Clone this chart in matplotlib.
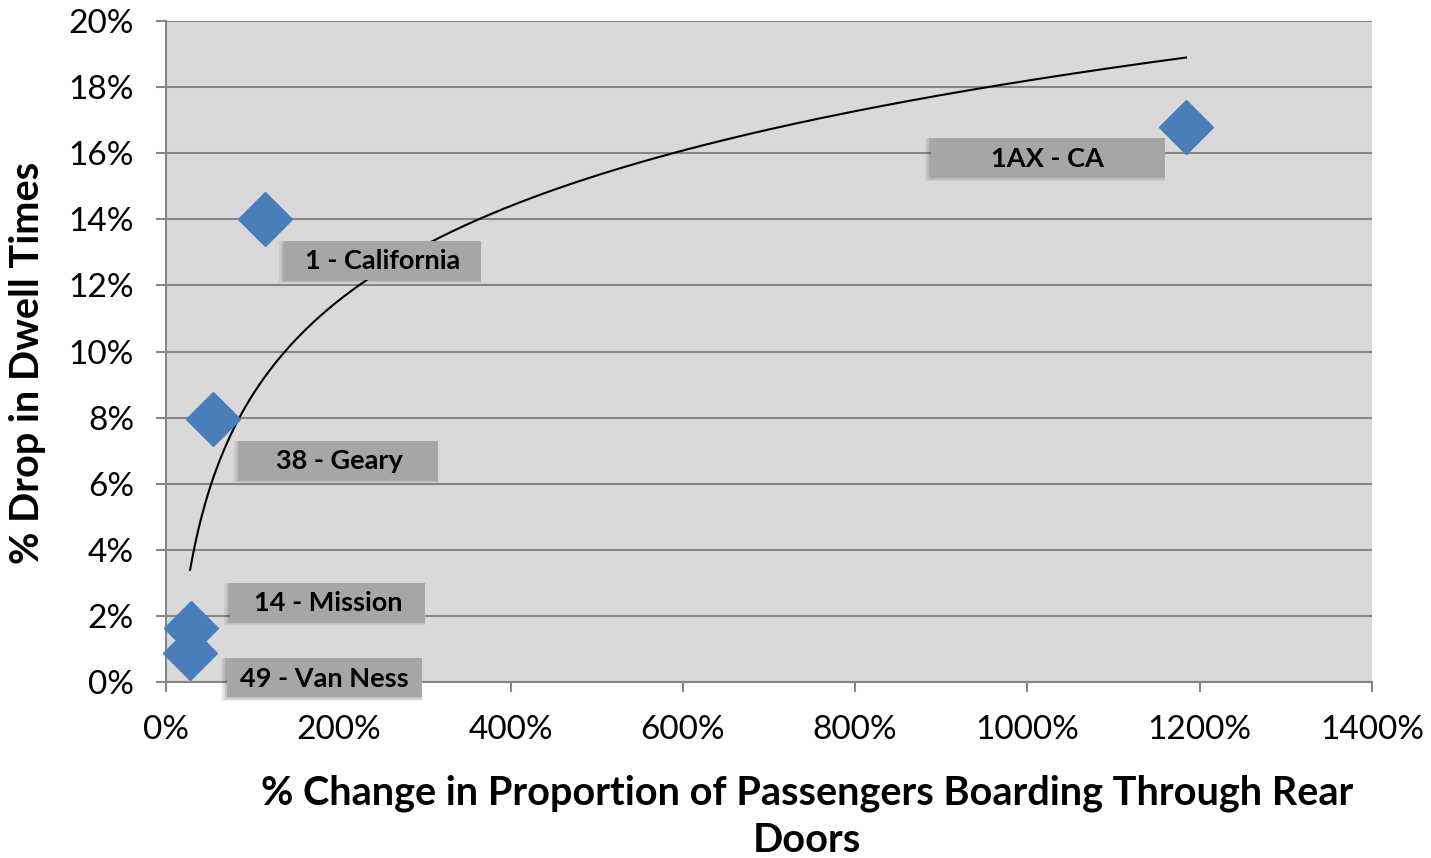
import numpy as np
import matplotlib
matplotlib.use('Agg')
import matplotlib.pyplot as plt
from matplotlib.patches import Rectangle
from matplotlib.transforms import IdentityTransform, ScaledTranslation
from matplotlib.ticker import FuncFormatter

plt.rcParams['font.family'] = ['Lato', 'DejaVu Sans']

# data (percent)
routes = ['1AX - CA', '1 - California', '38 - Geary', '14 - Mission', '49 - Van Ness']
rear_change = [1184, 115, 55, 29, 28]
dwell_drop = [16.8, 14.0, 7.95, 1.63, 0.88]

x_title = ['% Change in Proportion of Passengers Boarding Through Rear', 'Doors']
y_title = '% Drop in Dwell Times'

# label box placement in pixels relative to the point: dx, dy, width
label_pos = [(-138, -31, 234), (118, -41, 196), (126, -41, 198), (137, 26, 195), (134, -25, 195)]

grid_col = '#868686'

fig = plt.figure(figsize=(14.31, 8.58), dpi=100)
ax = fig.add_axes([166 / 1431, 176 / 858, 1206 / 1431, 661 / 858])
ax.set_facecolor('#d9d9d9')
ax.set_xlim(0, 1400)
ax.set_ylim(0, 20)
ax.set_xticks(np.arange(0, 1401, 200))
ax.set_yticks(np.arange(0, 21, 2))
pct = FuncFormatter(lambda v, p: '%d%%' % v)
ax.xaxis.set_major_formatter(pct)
ax.yaxis.set_major_formatter(pct)
ax.tick_params(axis='both', labelsize=24, color=grid_col, width=1.5, length=7)
ax.tick_params(axis='x', pad=17)
ax.tick_params(axis='y', pad=16)
ax.yaxis.grid(True, color=grid_col, linewidth=1.5)
ax.set_axisbelow(True)
for side in ['top', 'right']:
    ax.spines[side].set_visible(False)
for side in ['left', 'bottom']:
    ax.spines[side].set_color(grid_col)
    ax.spines[side].set_linewidth(1.5)

# logarithmic trend line
a, b = np.polyfit(np.log(rear_change), dwell_drop, 1)
xs = np.linspace(min(rear_change), max(rear_change), 400)
ax.plot(xs, a * np.log(xs) + b, color='black', linewidth=1.5, zorder=3)

ax.plot(rear_change, dwell_drop, linestyle='none', marker='D', markersize=28,
        color='#4a7ebb', zorder=4, clip_on=False)

for name, x, y, (dx, dy, w) in zip(routes, rear_change, dwell_drop, label_pos):
    h = 39
    base = IdentityTransform() + ScaledTranslation(x, y, ax.transData)
    for k, al in enumerate([0.06, 0.08, 0.1]):
        s = 6 - 2 * k
        ax.add_patch(Rectangle((dx - w / 2 - s, dy - h / 2 - s * 0.6), w + s, h + s * 0.6,
                               transform=base, facecolor='black', alpha=al,
                               edgecolor='none', zorder=5, clip_on=False))
    ax.add_patch(Rectangle((dx - w / 2, dy - h / 2), w, h, transform=base,
                           facecolor='#a6a6a6', edgecolor='none', zorder=6, clip_on=False))
    ax.annotate(name, (x, y), xytext=(dx, dy - 1), textcoords='offset pixels',
                ha='center', va='center', fontsize=19.5, fontweight='bold', zorder=7)

fig.text(28 / 1431, 1 - 363 / 858, y_title, rotation=90,
         ha='center', va='center', fontsize=28.5, fontweight='bold')
for line, base_y in zip(x_title, [804, 852]):
    fig.text(807 / 1431, 1 - base_y / 858, line, ha='center', va='baseline',
             fontsize=28.5, fontweight='bold')

fig.savefig('out.png', dpi=100)
